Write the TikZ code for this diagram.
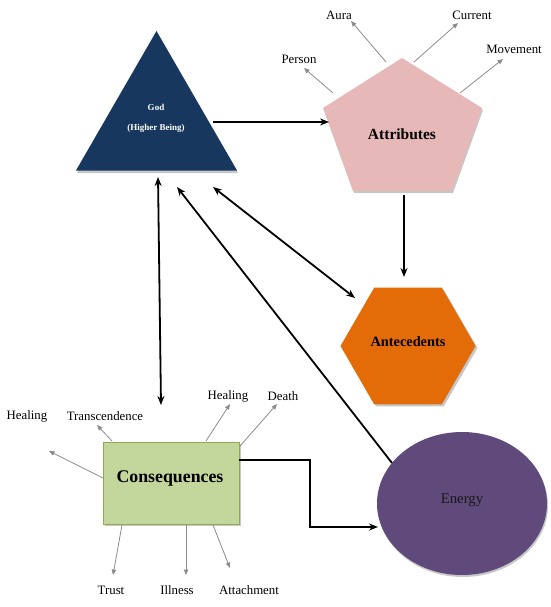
\documentclass[tikz,border=0pt]{standalone}
\usepackage{fontspec}
\setmainfont{Liberation Serif}
\usetikzlibrary{arrows.meta,shapes.geometric}
\definecolor{godblue}{HTML}{17375E}
\definecolor{attrpink}{HTML}{E6B9B8}
\definecolor{antorange}{HTML}{E36C09}
\definecolor{enpurple}{HTML}{604A7B}
\definecolor{congreen}{HTML}{C3D69B}
\definecolor{conborder}{HTML}{8DAA55}
\definecolor{arrgray}{HTML}{8C8C8C}
\begin{document}
\begin{tikzpicture}[x=1pt,y=-1pt,
  blk/.style={line width=1.8pt, -{Stealth[length=9pt,width=7pt]}},
  blkboth/.style={line width=1.8pt, {Stealth[length=9pt,width=7pt]}-{Stealth[length=9pt,width=7pt]}},
  gry/.style={draw=arrgray, line width=0.8pt, -{Triangle[length=5.5pt,width=4.5pt]}},
  lbl/.style={font=\fontsize{12.8}{14}\selectfont, inner sep=0pt},
  shade/.style={fill=black!22},
]
\useasboundingbox (0,0) rectangle (550,607);

% ---------- shapes ----------
% God triangle
\fill[shade] (157,33) -- (238,173) -- (77,173) -- cycle;
\node[regular polygon, regular polygon sides=3, minimum size=186pt, inner sep=0pt, outer sep=0pt, fill=godblue] (god) at (156.5,124) {};
\node[text=white, font=\bfseries\fontsize{9}{11}\selectfont, inner sep=0pt] (godtxt) at (156,107) {God};
\node[text=white, font=\bfseries\fontsize{9}{11}\selectfont, inner sep=0pt] (godtxt2) at (156,128) {(Higher Being)};

% Attributes pentagon
\fill[shade] (403,60) -- (483,110) -- (453,193) -- (354,193) -- (324,110) -- cycle;
\fill[attrpink] (402,58) -- (482,108) -- (452,191) -- (353,191) -- (323,108) -- cycle;
\node[font=\bfseries\fontsize{15.5}{18}\selectfont, inner sep=0pt] (attr) at (402,134) {Attributes};

% Antecedents hexagon
\fill[shade] (410,348) +(0:67.5) -- +(60:67.5) -- +(120:67.5) -- +(180:67.5) -- +(240:67.5) -- +(300:67.5) -- cycle;
\node[regular polygon, regular polygon sides=6, minimum size=135pt, inner sep=0pt, outer sep=0pt, fill=antorange] (ante) at (408,346) {};
\node[font=\bfseries\fontsize{14.3}{17}\selectfont, inner sep=0pt] (antetxt) at (408,342) {Antecedents};

% Energy ellipse
\fill[shade] (463,505.5) ellipse [x radius=85, y radius=71.5];
\node[ellipse, minimum width=170pt, minimum height=143pt, inner sep=0pt, outer sep=0pt, fill=enpurple] (energy) at (462,503.5) {};
\node[font=\fontsize{14.8}{17}\selectfont, text=black!90, inner sep=0pt] (entxt) at (462,500) {Energy};

% Consequences rectangle
\fill[shade] (105,444) rectangle (241,526);
\node[rectangle, minimum width=136pt, minimum height=82pt, inner sep=0pt, fill=congreen, draw=conborder, line width=1pt] (cons) at (171,483) {};
\node[font=\bfseries\fontsize{17.8}{20}\selectfont, inner sep=0pt] (constxt) at (170,478) {Consequences};

% ---------- black connectors ----------
\coordinate (g1) at (212.5,122);
\coordinate (a1) at (329,122);
\draw[blk] (g1) -- (a1);

\coordinate (a2) at (404,195);
\coordinate (an1) at (404,277);
\draw[blk] (a2) -- (an1);

\coordinate (g2) at (213,187);
\coordinate (an2) at (355,298);
\draw[blkboth] (g2) -- (an2);

\coordinate (e1) at (392,463);
\coordinate (g3) at (177,187);
\draw[blk] (e1) -- (g3);

\coordinate (g4) at (158,177);
\coordinate (c1) at (161,405);
\draw[blkboth] (g4) -- (c1);

\coordinate (c2) at (239,460);
\coordinate (e2) at (378,527);
\draw[blk] (c2) -- (310,460) -- (310,527) -- (e2);

% ---------- attribute labels ----------
\node[lbl] (person) at (299,59) {Person};
\node[lbl] (aura) at (339,15) {Aura};
\node[lbl] (current) at (472,15) {Current};
\node[lbl] (movement) at (514,49) {Movement};
\coordinate (ps) at (333,93);  \coordinate (pe) at (304,68);
\coordinate (as) at (386,62);  \coordinate (ae) at (351,21);
\coordinate (cs) at (414,62);  \coordinate (ce) at (458,23);
\coordinate (ms) at (460,93);  \coordinate (me) at (503,59);
\draw[gry] (ps) -- (pe);
\draw[gry] (as) -- (ae);
\draw[gry] (cs) -- (ce);
\draw[gry] (ms) -- (me);

% ---------- consequence labels ----------
\node[lbl] (healL) at (27,416) {Healing};
\node[lbl] (trans) at (105,416) {Transcendence};
\node[lbl] (healT) at (228,396) {Healing};
\node[lbl] (death) at (283,396) {Death};
\node[lbl] (trust) at (111,590) {Trust};
\node[lbl] (illness) at (177,590) {Illness};
\node[lbl] (attach) at (249,590) {Attachment};
\coordinate (hls) at (103,478); \coordinate (hle) at (49,451);
\coordinate (trs) at (112,441); \coordinate (tre) at (97,425);
\coordinate (hts) at (206,441); \coordinate (hte) at (230,404);
\coordinate (ds) at (240,446);  \coordinate (de) at (277,404);
\coordinate (tus) at (122,525); \coordinate (tue) at (113,575);
\coordinate (is) at (186,525);  \coordinate (ie) at (186,575);
\coordinate (ats) at (213,525); \coordinate (ate) at (230,568);
\draw[gry] (hls) -- (hle);
\draw[gry] (trs) -- (tre);
\draw[gry] (hts) -- (hte);
\draw[gry] (ds) -- (de);
\draw[gry] (tus) -- (tue);
\draw[gry] (is) -- (ie);
\draw[gry] (ats) -- (ate);
\end{tikzpicture}
\end{document}
